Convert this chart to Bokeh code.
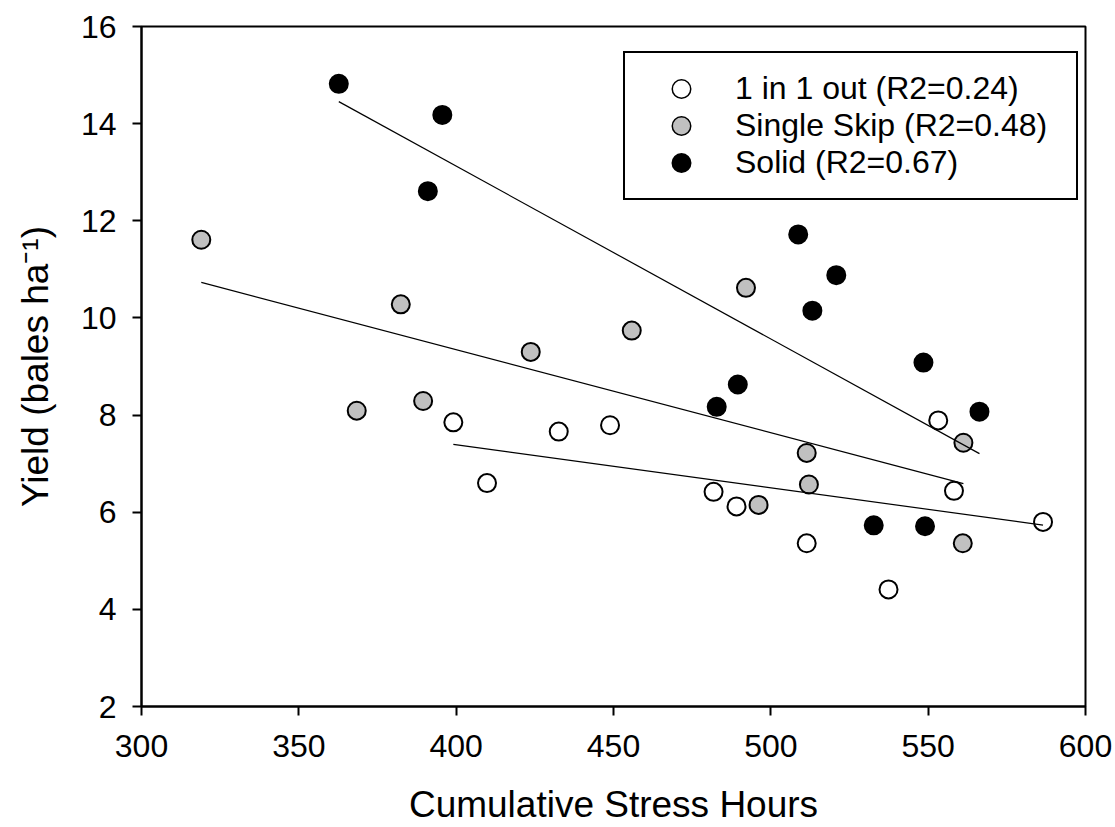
import numpy as np
from bokeh.plotting import figure
from bokeh.models import Range1d, FixedTicker, Legend, LegendItem
from bokeh.embed import file_html
from bokeh.resources import INLINE

# ---- data ----
x_ticks = [300, 350, 400, 450, 500, 550, 600]
y_ticks = [2, 4, 6, 8, 10, 12, 14, 16]

one_x = [399.1, 409.8, 432.6, 448.9, 481.8, 489.1, 511.4, 537.4, 553.2, 558.2, 586.5]
one_y = [7.85, 6.60, 7.66, 7.79, 6.42, 6.12, 5.36, 4.41, 7.89, 6.44, 5.80]

skip_x = [319.0, 368.4, 382.4, 389.5, 423.7, 455.8, 492.1, 496.1, 511.4, 512.1, 561.0, 561.2]
skip_y = [11.61, 8.09, 10.28, 8.29, 9.30, 9.74, 10.62, 6.15, 7.22, 6.57, 5.36, 7.43]

solid_x = [362.7, 391.0, 395.6, 482.8, 489.5, 508.7, 513.2, 520.8, 532.7, 548.5, 549.0, 566.3]
solid_y = [14.82, 12.61, 14.18, 8.17, 8.63, 11.72, 10.15, 10.88, 5.73, 9.08, 5.71, 8.07]

labels = ["1 in 1 out (R2=0.24)", "Single Skip (R2=0.48)", "Solid (R2=0.67)"]
fills = ["white", "#c0c0c0", "black"]

FONT = "Liberation Sans"

p = figure(width=1115, height=827, x_range=Range1d(300, 600), y_range=Range1d(2, 16),
           output_backend="svg", toolbar_location=None,
           min_border_left=141, min_border_right=30, min_border_top=26, min_border_bottom=120)

p.xgrid.visible = False
p.ygrid.visible = False
p.outline_line_color = "black"
p.outline_line_width = 2
p.outline_line_alpha = 1.0
p.background_fill_color = "white"
p.border_fill_color = "white"

for ax in (p.xaxis[0], p.yaxis[0]):
    ax.axis_line_width = 2
    ax.axis_line_color = "black"
    ax.major_tick_line_width = 2
    ax.major_tick_line_color = "black"
    ax.major_tick_out = 9
    ax.major_tick_in = 0
    ax.minor_tick_line_color = None
    ax.major_label_text_font = FONT
    ax.major_label_text_font_size = "32px"
    ax.major_label_text_color = "black"
    ax.axis_label_text_font = FONT
    ax.axis_label_text_font_size = "37px"
    ax.axis_label_text_font_style = "normal"
    ax.axis_label_text_color = "black"

p.xaxis[0].ticker = FixedTicker(ticks=x_ticks)
p.yaxis[0].ticker = FixedTicker(ticks=y_ticks)
p.xaxis[0].axis_label = "Cumulative Stress Hours"
p.yaxis[0].axis_label = "Yield (bales ha\u207b\u00b9)"
p.xaxis[0].major_label_standoff = 19
p.yaxis[0].major_label_standoff = 16
p.xaxis[0].axis_label_standoff = 24
p.yaxis[0].axis_label_standoff = 22

groups = [(one_x, one_y), (skip_x, skip_y), (solid_x, solid_y)]
for (gx, gy), fc in zip(groups, fills):
    p.scatter(gx, gy, size=18, fill_color=fc, line_color="black", line_width=2)

for gx, gy in groups:
    xa = np.array(gx)
    ya = np.array(gy)
    m, b = np.polyfit(xa, ya, 1)
    xs = [xa.min(), xa.max()]
    p.line(xs, [m * v + b for v in xs], line_color="black", line_width=1.2)

# legend swatches (hidden copies of each series, used only by the legend):
# a black ring layer under a filled disc layer
items = []
for (gx, gy), fc, lab in zip(groups, fills, labels):
    ring = p.scatter(gx, gy, size=18, fill_color="black", line_color="black", line_width=6, visible=False)
    disc = p.scatter(gx, gy, size=18, fill_color=fc, line_color=fc, line_width=3, visible=False)
    items.append(LegendItem(label=lab, renderers=[ring, disc]))

legend = Legend(items=items, location=(482, 506), margin=0, padding=17,
                glyph_width=78, glyph_height=35, label_height=35, spacing=0,
                label_standoff=15, label_width=324,
                label_text_font=FONT, label_text_font_size="32px", label_text_color="black",
                border_line_color="black", border_line_width=2, border_line_alpha=1.0,
                background_fill_color="white", background_fill_alpha=1.0)
p.add_layout(legend)

open("out.html", "w").write(file_html(p, INLINE))
